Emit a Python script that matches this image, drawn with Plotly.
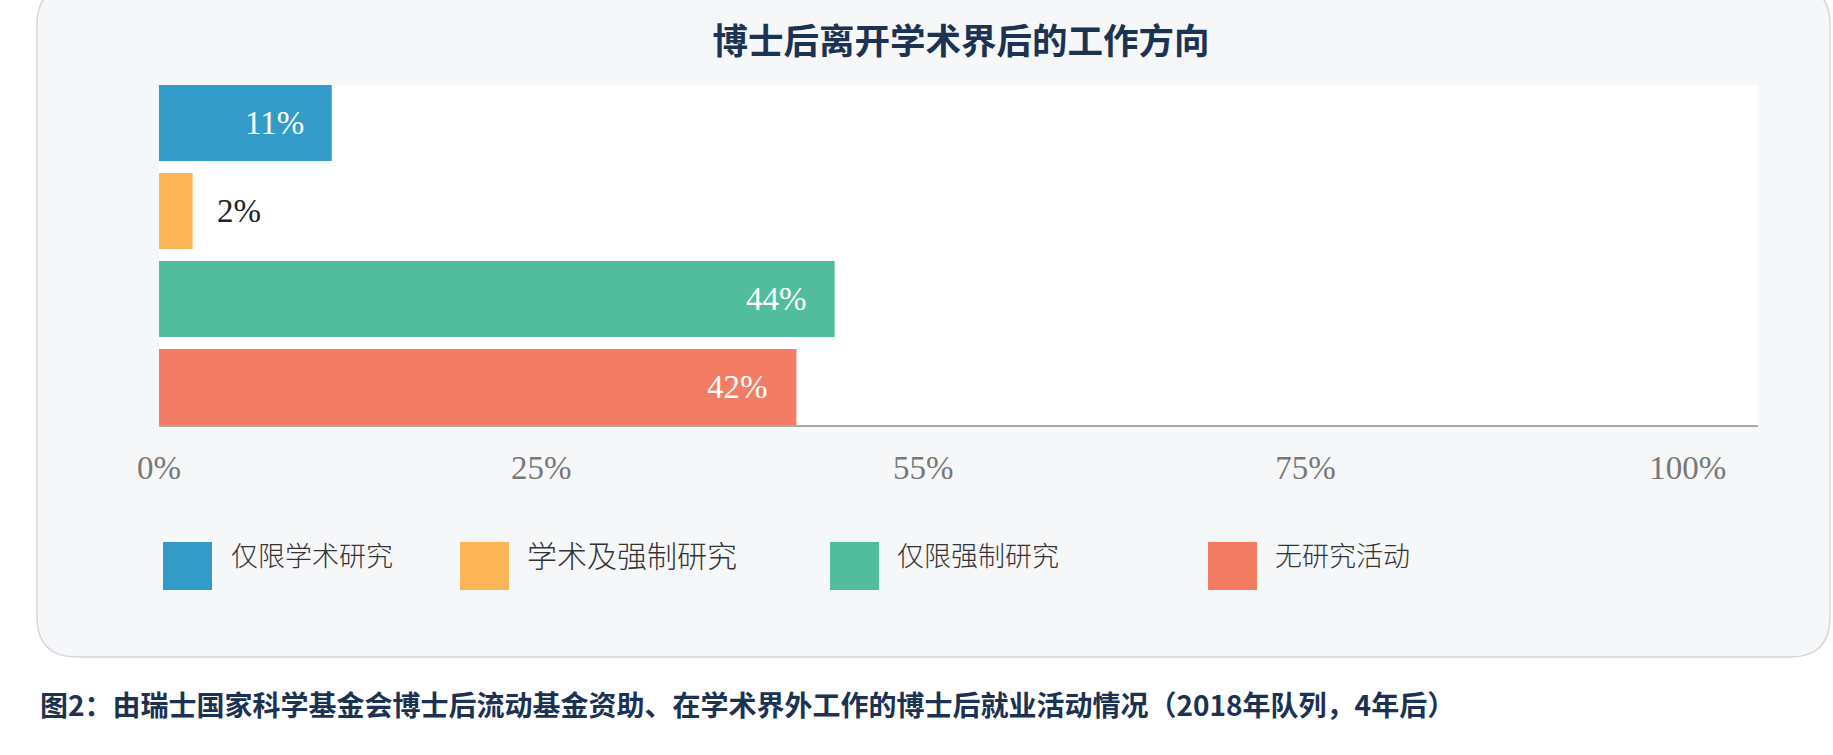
import plotly.graph_objects as go

# ---------------- data ----------------
categories = ["仅限学术研究", "学术及强制研究", "仅限强制研究", "无研究活动"]
values = [11.3, 2.2, 44.2, 41.7]
value_labels = ["11%", "2%", "44%", "42%"]
tick_vals = [0, 25, 50, 75, 100]
tick_text = ["0%", "25%", "55%", "75%", "100%"]

title_text = "博士后离开学术界后的工作方向"
caption_text = "图2：由瑞士国家科学基金会博士后流动基金资助、在学术界外工作的博士后就业活动情况（2018年队列，4年后）"

# ---------------- styles / layout ----------------
colors = ["#339bc8", "#fbb556", "#52bd9c", "#f37c64"]
label_inside = [True, False, True, True]
legend_font_sizes = [27, 30, 27, 27]
legend_sq_x = [163, 460, 830, 1208]
legend_txt_x = [229, 525, 895, 1273]

W, H = 1833, 755
L, R, T, B = 159, 75, 85, 330
PW = W - L - R
PH = H - T - B


def px(x):
    return (x - L) / PW


def py(y):
    return (H - B - y) / PH


NAVY = "#1c3253"
CJK = "Noto Sans CJK SC"
SERIF = "Liberation Serif"

fig = go.Figure(
    go.Bar(
        x=values,
        y=categories,
        orientation="h",
        marker=dict(color=colors, line=dict(width=0)),
        hoverinfo="skip",
        showlegend=False,
    )
)

shapes = []
# card background with rounded corners
cx0, cx1, cy0, cy1, rad = 37, 1830, -15, 657, 40
rx, ry = rad / PW, rad / PH
X0, X1, Y0, Y1 = px(cx0), px(cx1), py(cy1), py(cy0)  # Y0 bottom, Y1 top (paper)
path = (
    f"M {X0+rx},{Y1} L {X1-rx},{Y1} Q {X1},{Y1} {X1},{Y1-ry} "
    f"L {X1},{Y0+ry} Q {X1},{Y0} {X1-rx},{Y0} "
    f"L {X0+rx},{Y0} Q {X0},{Y0} {X0},{Y0+ry} "
    f"L {X0},{Y1-ry} Q {X0},{Y1} {X0+rx},{Y1} Z"
)
shapes.append(dict(type="path", xref="paper", yref="paper", path=path,
                   fillcolor="#f6f7f9", line=dict(color="#d3d6da", width=1.5),
                   layer="below"))
# white plot area
shapes.append(dict(type="rect", xref="paper", yref="paper", x0=0, x1=1, y0=0, y1=1,
                   fillcolor="#ffffff", line=dict(width=0), layer="below"))

annotations = []
# bar value labels
for cat, v, lab, inside in zip(categories, values, value_labels, label_inside):
    annotations.append(dict(
        x=v, y=cat, xref="x", yref="y", text=lab, showarrow=False,
        xanchor="right" if inside else "left",
        xshift=-26 if inside else 22,
        yanchor="middle",
        font=dict(family=SERIF, size=33, color="#ffffff" if inside else "#222222"),
    ))

# legend (manual)
for i, cat in enumerate(categories):
    shapes.append(dict(type="rect", xref="paper", yref="paper",
                       x0=px(legend_sq_x[i]), x1=px(legend_sq_x[i] + 49),
                       y0=py(590), y1=py(542),
                       fillcolor=colors[i], line=dict(width=0)))
    annotations.append(dict(
        x=px(legend_txt_x[i]), y=py(554), xref="paper", yref="paper",
        text=cat, showarrow=False, xanchor="left", yanchor="middle",
        font=dict(family=CJK, size=legend_font_sizes[i], color="#333333", weight=300),
    ))

# caption
annotations.append(dict(
    x=px(38), y=py(704), xref="paper", yref="paper", text=caption_text,
    showarrow=False, xanchor="left", yanchor="middle",
    font=dict(family=CJK, size=28, color=NAVY, weight="bold"),
))

fig.update_layout(
    width=W, height=H,
    margin=dict(l=L, r=R, t=T, b=B, pad=0),
    paper_bgcolor="#ffffff",
    plot_bgcolor="#ffffff",
    bargap=0.136,
    title=dict(text=title_text, x=961 / W, xref="container", xanchor="center",
               y=1 - 42 / H, yref="container", yanchor="middle",
               font=dict(family=CJK, size=35.5, color=NAVY, weight="bold")),
    xaxis=dict(range=[0, 104.6], tickvals=tick_vals, ticktext=tick_text,
               showgrid=False, zeroline=False, showline=True,
               linecolor="#aaaaaa", linewidth=2, ticks="",
               ticklabelstandoff=12,
               tickfont=dict(family=SERIF, size=33, color="#777777"),
               fixedrange=True),
    yaxis=dict(type="category", categoryorder="array", categoryarray=categories,
               range=[3.432, -0.432], showticklabels=False, showgrid=False,
               zeroline=False, showline=False, fixedrange=True),
    shapes=shapes,
    annotations=annotations,
    showlegend=False,
)

fig.write_html("out.html", config=dict(displayModeBar=False))
